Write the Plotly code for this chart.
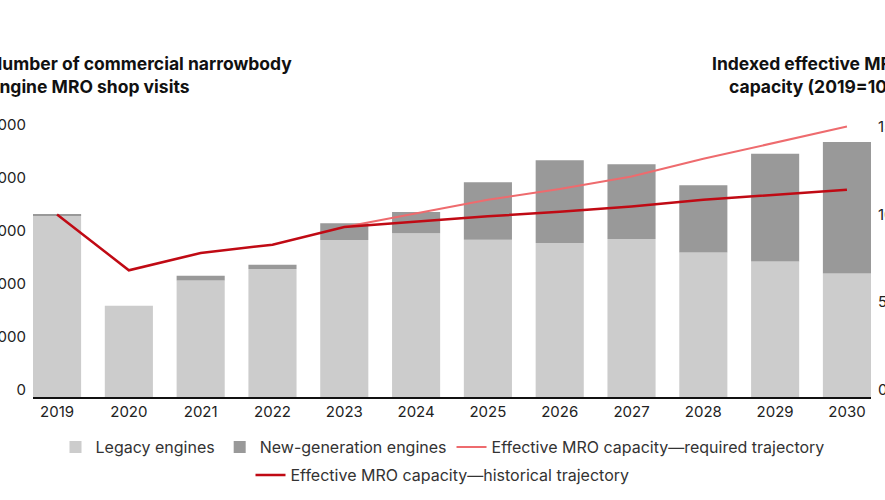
import plotly.graph_objects as go

years = ["2019", "2020", "2021", "2022", "2023", "2024", "2025", "2026", "2027", "2028", "2029", "2030"]
legacy = [3290, 1585, 2060, 2280, 2825, 2955, 2830, 2770, 2845, 2590, 2420, 2195]
newgen = [20, 0, 90, 80, 320, 400, 1090, 1565, 1415, 1270, 2035, 2485]
required = [None, None, None, None, 92.8, 100.8, 108.4, 114.5, 121.7, 131.8, 141.0, 150.2]
historical = [100, 68.1, 78.0, 82.7, 92.8, 96.0, 98.9, 101.5, 104.6, 108.4, 111.2, 114.1]

left_ticks = [0, 1000, 2000, 3000, 4000, 5000]
left_labels = ["0", "1,000", "2,000", "3,000", "4,000", "5,000"]
right_ticks = [0, 50, 100, 150]
right_labels = ["0", "50", "100", "150"]

FONT = "Inter"
PAD = 142  # visual baseline padding below zero (left-axis units)
W, H = 885, 500
ML, MR, MT, MB = 33, 14, 125, 102.5

fig = go.Figure()
fig.add_trace(go.Bar(
    x=years, y=[v + PAD for v in legacy], base=[-PAD] * len(legacy),
    name="Legacy engines", marker=dict(color="#cccccc", line=dict(width=0)),
    width=0.67, legend="legend",
))
fig.add_trace(go.Bar(
    x=years, y=newgen, base=legacy,
    name="New-generation engines", marker=dict(color="#999999", line=dict(width=0)),
    width=0.67, legend="legend",
))
fig.add_trace(go.Scatter(
    x=years, y=required, yaxis="y2", mode="lines",
    name="Effective MRO capacity\u2014required trajectory",
    line=dict(color="#ee6b6e", width=2), cliponaxis=False, legend="legend",
))
fig.add_trace(go.Scatter(
    x=years, y=historical, yaxis="y2", mode="lines",
    name="Effective MRO capacity\u2014historical trajectory",
    line=dict(color="#c00a14", width=2.5), cliponaxis=False, legend="legend2",
))

fig.update_layout(
    width=W, height=H, autosize=False,
    margin=dict(l=ML, r=MR, t=MT, b=MB, pad=0, autoexpand=False),
    paper_bgcolor="white", plot_bgcolor="white",
    barmode="overlay",
    font=dict(family=FONT, size=15, color="#222222"),
    showlegend=True,
    xaxis=dict(
        type="category", range=[-0.335, 11.335], showline=True, linecolor="#111111",
        linewidth=2, ticks="", showgrid=False, zeroline=False, automargin=False,
        tickfont=dict(size=15, color="#222222", family=FONT),
    ),
    yaxis=dict(
        range=[-PAD, 5000], tickvals=left_ticks, ticktext=left_labels,
        showgrid=False, zeroline=False, showline=False, ticks="", automargin=False,
        tickfont=dict(size=15, color="#222222", family=FONT), ticklabelstandoff=6,
    ),
    yaxis2=dict(
        range=[-4.3, 151.1], tickvals=right_ticks, ticktext=right_labels,
        overlaying="y", side="right", showgrid=False, zeroline=False, showline=False,
        ticks="", automargin=False,
        tickfont=dict(size=15, color="#222222", family=FONT), ticklabelstandoff=6,
    ),
    legend=dict(
        orientation="h", x=0.5, xanchor="center", xref="container",
        y=1 - 447 / H, yanchor="middle", yref="container",
        font=dict(size=16, color="#333333", family=FONT), traceorder="normal",
        itemwidth=30, bgcolor="rgba(0,0,0,0)",
    ),
    legend2=dict(
        orientation="h", x=0.5, xanchor="center", xref="container",
        y=1 - 475 / H, yanchor="middle", yref="container",
        font=dict(size=16, color="#333333", family=FONT),
        itemwidth=30, bgcolor="rgba(0,0,0,0)",
    ),
)

fig.add_annotation(
    text="<b>Number of commercial narrowbody<br>engine MRO shop visits</b>",
    xref="paper", yref="paper", x=0, y=1, xanchor="left", yanchor="top",
    xshift=-46, yshift=74, align="left", showarrow=False,
    font=dict(size=17.5, color="#111111", family=FONT),
)
fig.add_annotation(
    text="<b>Indexed effective MRO<br>capacity (2019=100)</b>",
    xref="paper", yref="paper", x=1, y=1, xanchor="right", yanchor="top",
    xshift=36, yshift=74, align="right", showarrow=False,
    font=dict(size=17.5, color="#111111", family=FONT),
)

fig.write_html("out.html")
